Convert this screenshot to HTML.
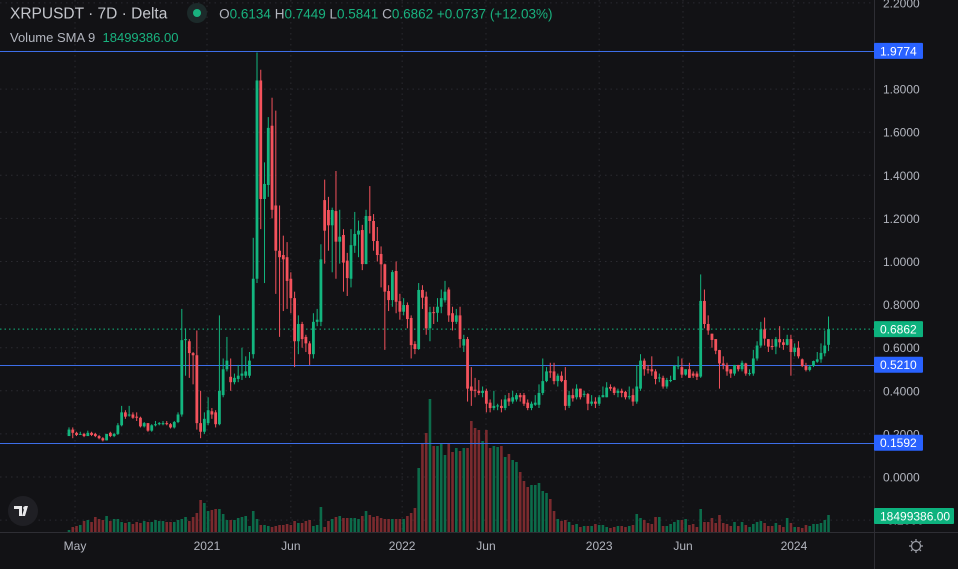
<!DOCTYPE html>
<html><head><meta charset="utf-8"><style>
html,body{margin:0;padding:0;background:#121215;width:958px;height:569px;overflow:hidden;font-family:"Liberation Sans",sans-serif}
#wrap{position:relative;width:958px;height:569px}
svg{position:absolute;left:0;top:0}
.legend{position:absolute;left:10px;color:#d1d4dc;font-size:13.5px;white-space:nowrap}
.g{color:#19b27f}
.lbl{color:#b2b5be}
</style></head><body>
<div id="wrap">
<svg id="chart" width="958" height="569"></svg>
<div class="legend" style="top:5px">
<span style="font-size:15.5px;color:#c4c6cc">XRPUSDT · 7D · Delta</span>
<span style="display:inline-block;width:20px;height:20px;border-radius:50%;background:#1c2a2a;vertical-align:middle;margin:0 12px 0 16px;position:relative;top:-2px"><span style="position:absolute;left:6px;top:6px;width:8px;height:8px;border-radius:50%;background:#19b27f"></span></span><span class="lbl">O</span><span class="g">0.6134</span> <span class="lbl">H</span><span class="g">0.7449</span> <span class="lbl">L</span><span class="g">0.5841</span> <span class="lbl">C</span><span class="g">0.6862</span> <span class="g">+0.0737 (+12.03%)</span>
</div>
<div class="legend" style="top:30px;font-size:13px"><span class="lbl">Volume SMA 9</span>&nbsp; <span class="g">18499386.00</span></div>
</div>
<script>
const opens=[.19,.22,.205,.20,.20,.19,.205,.20,.19,.18,.17,.205,.19,.20,.24,.30,.285,.29,.28,.275,.235,.25,.215,.24,.245,.245,.25,.245,.23,.255,.29,.635,.63,.575,.565,.25,.21,.25,.305,.30,.245,.38,.50,.465,.44,.455,.47,.47,.47,.57,.92,1.84,1.29,1.355,1.63,1.26,1.05,1.03,1.02,.92,.83,.63,.71,.65,.62,.57,.72,.72,1.285,1.239,1.168,1.234,1.092,1.123,1.004,.92,1.073,1.125,1.146,.988,1.211,1.188,1.095,1.035,.987,.863,.821,.956,.816,.767,.798,.738,.617,.594,.868,.837,.69,.765,.762,.79,.82,.87,.76,.72,.75,.61,.64,.42,.405,.40,.39,.40,.345,.32,.33,.33,.32,.365,.35,.36,.38,.38,.345,.32,.335,.335,.39,.445,.49,.49,.445,.47,.45,.33,.38,.37,.41,.385,.385,.34,.35,.34,.37,.37,.418,.415,.39,.40,.395,.37,.38,.35,.41,.54,.50,.50,.49,.46,.46,.42,.445,.45,.515,.51,.475,.50,.48,.48,.466,.817,.71,.665,.64,.589,.527,.52,.50,.48,.52,.50,.527,.48,.48,.55,.61,.685,.64,.608,.605,.64,.625,.613,.64,.58,.60,.546,.515,.497,.515,.535,.546,.574,.6134];
const closes=[.22,.205,.195,.20,.19,.205,.195,.19,.18,.17,.20,.19,.20,.24,.30,.28,.29,.275,.275,.235,.25,.215,.24,.245,.25,.25,.245,.23,.255,.29,.635,.64,.575,.565,.25,.21,.27,.31,.29,.245,.40,.50,.54,.44,.46,.47,.48,.49,.54,.92,1.84,1.29,1.36,1.62,1.24,1.05,1.02,1.01,.91,.83,.63,.71,.64,.62,.57,.72,.73,1.01,1.143,1.168,1.239,1.092,1.115,.995,.923,1.076,1.128,1.143,.988,1.211,1.188,1.095,1.03,.987,.86,.821,.951,.813,.767,.798,.733,.612,.594,.868,.832,.69,.765,.764,.79,.83,.86,.75,.72,.75,.64,.64,.41,.40,.40,.39,.40,.34,.32,.33,.332,.32,.36,.35,.37,.38,.37,.34,.32,.34,.345,.39,.445,.49,.485,.445,.47,.445,.33,.38,.365,.41,.37,.386,.34,.35,.34,.37,.38,.415,.41,.39,.40,.39,.37,.375,.35,.42,.54,.50,.498,.49,.455,.462,.42,.45,.45,.515,.517,.475,.50,.46,.47,.465,.817,.71,.68,.636,.586,.527,.52,.49,.48,.52,.50,.53,.48,.482,.55,.61,.685,.642,.605,.606,.64,.625,.613,.64,.58,.60,.56,.515,.497,.512,.538,.546,.576,.61,.6862];
const highs=[.23,.23,.21,.21,.205,.215,.21,.205,.195,.185,.20,.21,.205,.25,.33,.31,.33,.30,.30,.28,.255,.25,.245,.26,.255,.26,.26,.25,.26,.30,.78,.69,.64,.58,.68,.40,.30,.37,.32,.31,.75,.55,.65,.55,.48,.52,.60,.56,.58,1.11,1.97,1.89,1.46,1.67,1.76,1.70,1.26,1.12,1.09,.95,.86,.75,.72,.66,.63,.76,.78,1.08,1.38,1.30,1.25,1.42,1.24,1.15,1.04,1.15,1.23,1.19,1.17,1.24,1.35,1.22,1.16,1.07,.99,.89,.96,1.00,.85,.83,.81,.75,.63,.90,.89,.86,.79,.79,.83,.87,.91,.88,.79,.78,.79,.66,.65,.51,.46,.45,.42,.41,.36,.40,.34,.36,.38,.39,.40,.39,.39,.39,.36,.35,.38,.43,.55,.51,.53,.53,.48,.49,.51,.40,.41,.43,.41,.40,.39,.38,.37,.38,.42,.44,.43,.42,.41,.41,.40,.42,.41,.52,.57,.55,.52,.56,.50,.48,.47,.46,.47,.52,.56,.55,.50,.53,.49,.49,.94,.87,.75,.66,.64,.59,.56,.53,.50,.52,.52,.54,.53,.50,.59,.63,.72,.74,.64,.64,.65,.70,.64,.66,.66,.62,.63,.55,.53,.52,.54,.58,.62,.68,.7449];
const lows=[.19,.18,.19,.195,.185,.19,.19,.185,.175,.165,.17,.185,.185,.195,.235,.27,.28,.27,.26,.23,.23,.21,.21,.235,.24,.24,.24,.225,.225,.25,.28,.47,.46,.43,.22,.18,.20,.24,.27,.23,.24,.37,.49,.40,.43,.44,.45,.46,.46,.55,.90,1.15,.90,1.30,1.20,.85,.65,.77,.78,.76,.51,.57,.60,.58,.52,.55,.70,.70,.99,1.05,.95,.92,.99,.86,.84,.88,1.04,1.02,.96,1.00,1.13,1.05,1.00,.88,.59,.77,.79,.76,.73,.75,.69,.55,.57,.59,.78,.66,.63,.71,.72,.76,.81,.72,.68,.71,.60,.58,.35,.33,.37,.38,.37,.30,.30,.31,.31,.30,.31,.33,.34,.35,.35,.33,.31,.31,.33,.32,.38,.44,.46,.43,.42,.44,.31,.32,.35,.36,.36,.37,.31,.33,.32,.33,.37,.40,.40,.38,.37,.37,.36,.36,.33,.34,.40,.47,.48,.47,.43,.44,.41,.41,.44,.45,.50,.46,.47,.46,.46,.45,.46,.69,.66,.60,.57,.41,.50,.47,.46,.47,.49,.49,.47,.47,.47,.54,.60,.61,.58,.59,.57,.60,.59,.61,.47,.56,.55,.51,.49,.49,.51,.53,.53,.56,.5841];
const volumes=[2,5,6,7,11,12,10,15,13,12,16,11,13,13,10,9,10,8,10,9,11,10,10,12,11,11,10,10,10,12,13,15,11,15,19,32,29,21,22,23,23,18,12,12,12,14,15,16,6,21,13,7,7,6,5,6,7,7,8,7,11,9,9,11,12,6,7,25,5,11,13,15,16,14,14,14,14,13,16,21,17,15,16,14,13,13,13,13,13,13,16,19,24,64,89,99,133,86,86,89,77,88,80,84,81,84,84,111,104,102,91,102,84,86,85,86,75,78,72,70,60,51,45,47,47,49,41,39,33,21,13,11,12,10,7,8,5,6,6,6,8,7,7,5,4,5,6,6,5,6,7,18,14,12,9,8,15,15,6,6,8,10,12,12,13,7,8,5,23,10,10,14,9,17,9,8,6,10,6,10,7,5,8,10,11,9,6,6,9,7,5,14,9,5,5,4,7,6,8,8,9,12,17];
const timeLabels=["May","2021","Jun","2022","Jun","2023","Jun","2024"];
const timeIdx=[1.6,36.7,59,88.6,110.9,141,163.3,192.8];
const priceTicks=[2.2,1.8,1.6,1.4,1.2,1.0,0.8,0.6,0.4,0.2,0.0,-0.2];
const hLines=[1.9774,0.5210,0.1592];

const NS="http://www.w3.org/2000/svg";
const svg=document.getElementById('chart');
const PLOT_R=874, AXIS_Y=532;
function xOf(i){return 69+i*3.76;}
function yOf(v){return 477-v*215.5;}
function vyOf(v){return AXIS_Y-v*1.0;}
function mk(tag,attrs,parent){const e=document.createElementNS(NS,tag);for(const k in attrs)e.setAttribute(k,attrs[k]);(parent||svg).appendChild(e);return e;}
const GREEN="#13b67f",RED="#f4525c",VG="#0c6b4a",VR="#7a2a2e";

const grid=mk('g',{});


priceTicks.forEach(v=>{mk('line',{x1:0,x2:PLOT_R,y1:yOf(v),y2:yOf(v),stroke:'#2a2a30','stroke-dasharray':'1.5,4','stroke-width':1},grid);});
timeIdx.forEach(t=>{mk('line',{x1:xOf(t),x2:xOf(t),y1:0,y2:AXIS_Y,stroke:'#2a2a30','stroke-dasharray':'1.5,4','stroke-width':1},grid);});

const vg=mk('g',{});


volumes.forEach((v,i)=>{
  const up=closes[i]>=opens[i];
  const r=mk('rect',{x:xOf(i)-1.3,y:vyOf(v),width:2.6,height:AXIS_Y-vyOf(v),fill:up?VG:VR},vg);
  
  
});

hLines.forEach(v=>{
  const l=mk('line',{x1:0,x2:PLOT_R,y1:Math.round(yOf(v))+0.5,y2:Math.round(yOf(v))+0.5,stroke:'#3d6ee8','stroke-width':1});
  
  
});
const lastC=closes[closes.length-1];
const pl=mk('line',{x1:0,x2:PLOT_R,y1:yOf(lastC),y2:yOf(lastC),stroke:GREEN,'stroke-dasharray':'1.5,3','stroke-width':1});



const cg=mk('g',{});


closes.forEach((c,i)=>{
  const o=opens[i],up=c>=o,col=up?GREEN:RED,x=xOf(i);
  const hi=Math.max(highs[i],o,c),lo=Math.min(lows[i],o,c);
  const g=mk('g',{},cg);
  
  
  mk('line',{x1:x,x2:x,y1:yOf(hi),y2:yOf(lo),stroke:col,'stroke-width':1},g);
  const t=yOf(Math.max(o,c)),b=yOf(Math.min(o,c));
  mk('rect',{x:x-1.4,y:t,width:2.8,height:Math.max(1,b-t),fill:col},g);
});

const ax=mk('g',{});


mk('rect',{x:PLOT_R,y:0,width:958-PLOT_R,height:569,fill:'#121215'},ax);
mk('rect',{x:0,y:AXIS_Y,width:958,height:569-AXIS_Y,fill:'#121215'},ax);
mk('line',{x1:PLOT_R+0.5,x2:PLOT_R+0.5,y1:0,y2:569,stroke:'#2e2e34'},ax);
mk('line',{x1:0,x2:958,y1:AXIS_Y+0.5,y2:AXIS_Y+0.5,stroke:'#2e2e34'},ax);
priceTicks.forEach(v=>{
  const t=mk('text',{x:883,y:yOf(v)+4.5,fill:'#b2b5be','font-size':12,'font-family':'Liberation Sans, sans-serif'},ax);
  t.textContent=v.toFixed(4);
  
  
});
timeLabels.forEach((s,k)=>{
  const t=mk('text',{x:xOf(timeIdx[k]),y:550,fill:'#b2b5be','font-size':12,'text-anchor':'middle','font-family':'Liberation Sans, sans-serif'},ax);
  t.textContent=s;
  
  
});
function tag(v,y,col,w,name){
  const g=mk('g',{});
  
  
  mk('rect',{x:PLOT_R,y:y-8,width:w,height:16,fill:col,rx:1},g);
  const t=mk('text',{x:PLOT_R+6,y:y+4.5,fill:'#fff','font-size':12,'font-family':'Liberation Sans, sans-serif'},g);
  t.textContent=v;
}
hLines.forEach(v=>tag(v.toFixed(4),yOf(v),'#2962ff',49,'line-price-tag'));
tag(lastC.toFixed(4),yOf(lastC),'#0db27e',49,'last-price-tag');
tag('18499386.00',516,'#0db27e',80,'volume-tag');
const gear=mk('g',{transform:'translate(916,546)'});


mk('circle',{cx:0,cy:0,r:4.5,fill:'none',stroke:'#9a9ca4','stroke-width':1.3},gear);
for(let k=0;k<8;k++){const a=k*Math.PI/4;mk('line',{x1:Math.cos(a)*5,y1:Math.sin(a)*5,x2:Math.cos(a)*7,y2:Math.sin(a)*7,stroke:'#9a9ca4','stroke-width':1.3},gear);}
const logo=mk('g',{transform:'translate(8,496)'});


mk('circle',{cx:15,cy:15,r:15,fill:'#1f1f24'},logo);
mk('path',{d:'M6 10h8v10h-3v-7h-5z M17 10h3l-3 10h-3z',fill:'#e8e8ea'},logo);
mk('circle',{cx:17,cy:12,r:1.8,fill:'#e8e8ea'},logo);
</script>
</body></html>
